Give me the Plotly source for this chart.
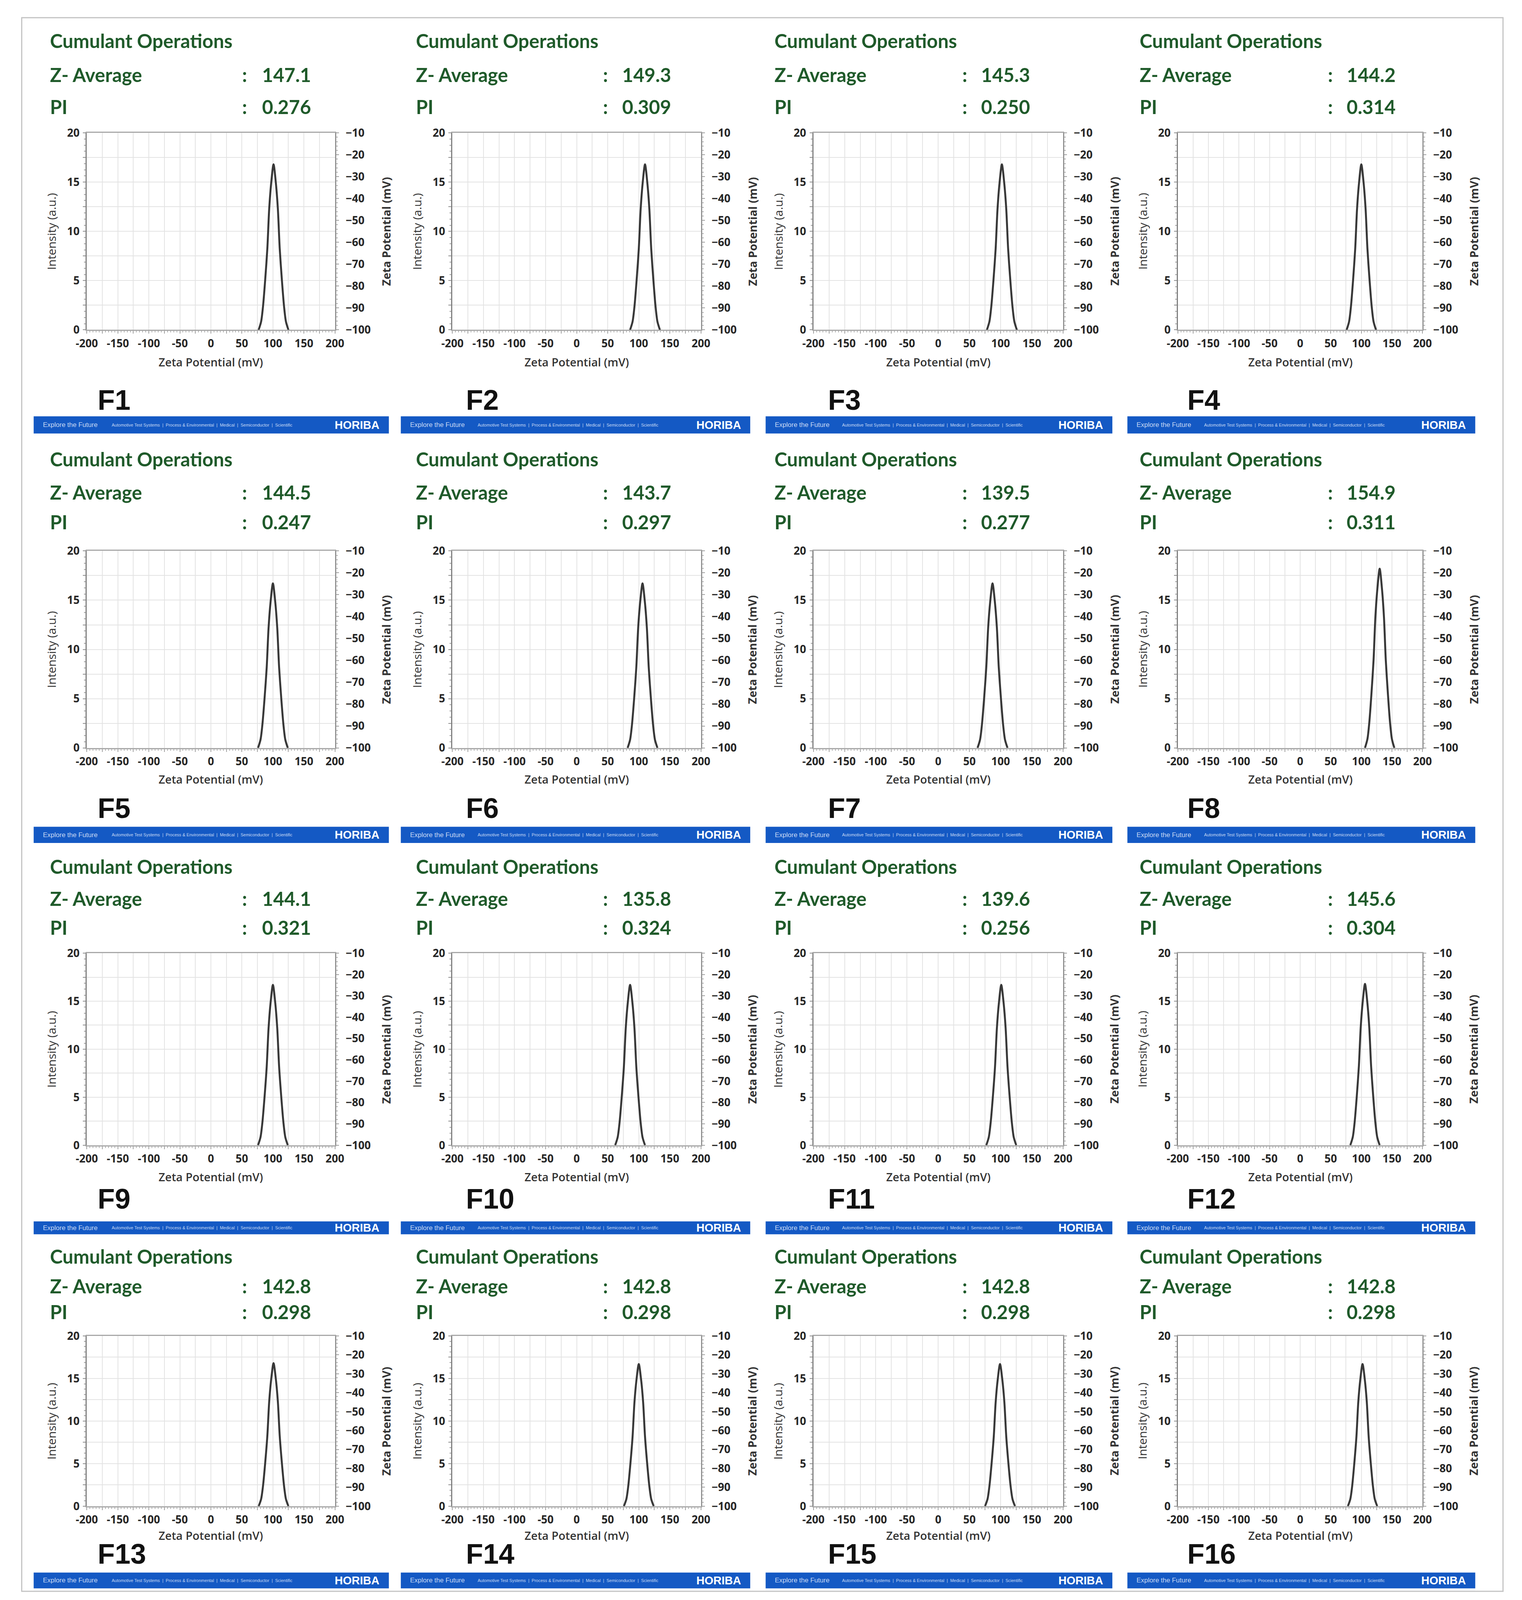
import plotly.graph_objects as go

# ── Data ──────────────────────────────────────────────────────────────────────
SAMPLES = ["F1", "F2", "F3", "F4", "F5", "F6", "F7", "F8",
           "F9", "F10", "F11", "F12", "F13", "F14", "F15", "F16"]
Z_AVERAGE = ["147.1", "149.3", "145.3", "144.2", "144.5", "143.7", "139.5", "154.9",
             "144.1", "135.8", "139.6", "145.6", "142.8", "142.8", "142.8", "142.8"]
PI_VALUES = ["0.276", "0.309", "0.250", "0.314", "0.247", "0.297", "0.277", "0.311",
             "0.321", "0.324", "0.256", "0.304", "0.298", "0.298", "0.298", "0.298"]
PEAK_CENTER = [101, 110, 102, 100, 100, 106, 87, 130,
               100, 86, 101, 106, 101, 100, 99, 102]
PEAK_HEIGHT = [16.8, 16.8, 16.8, 16.8, 16.7, 16.7, 16.7, 18.2,
               16.7, 16.7, 16.7, 16.8, 16.8, 16.7, 16.7, 16.7]
# peak outline as read from F1: offset from the peak (mV) and share of peak height
PEAK_OFFSET = [-24, -20, -17, -13.5, -10, -7, -3.7, 0, 3.7, 7, 10, 13.5, 17, 20, 24]
PEAK_SHAPE = [0, 0.05, 0.14, 0.30, 0.49, 0.73, 0.89, 1.0, 0.89, 0.73, 0.49, 0.30, 0.14, 0.05, 0]

X_TICKS = [-200, -175, -150, -125, -100, -75, -50, -25, 0, 25, 50, 75, 100, 125, 150, 175, 200]
X_LABELS = ["-200", "", "-150", "", "-100", "", "-50", "", "0", "", "50", "", "100", "", "150", "", "200"]
Y_TICKS = [0, 2.5, 5, 7.5, 10, 12.5, 15, 17.5, 20]
Y_LABELS = ["0", "", "5", "", "10", "", "15", "", "20"]

# ── Page geometry (pixels of the 3897 x 4804 sheet) ───────────────────────────
W, H = 3897, 4804
PLOT_LEFT = [196, 1145, 2082, 3028]
PLOT_RIGHT = [840, 1790, 2730, 3663]
PLOT_TOP = [379, 1646, 2865, 4025]
PLOT_BOTTOM = [976, 2243, 3447, 4541]
TEXT_X = [98, 1048, 1979, 2927]
COLON_X = [603, 1540, 2473, 3421]
VALUE_X = [649, 1584, 2515, 3464]
LABEL_X = [222, 1178, 2118, 3050]
TITLE_Y = [100, 1367, 2602, 3784]
ZAVG_Y = [203, 1468, 2699, 3874]
PI_Y = [300, 1558, 2787, 3952]
LABEL_Y = [1188, 2426, 3610, 4686]
XTITLE_GAP = [97, 95, 96, 88]
BANNER_X = [(58, 980), (1011, 1918), (1958, 2858), (2897, 3800)]
BANNER_Y = [(1238, 1290), (2482, 2531), (3678, 3717), (4742, 4790)]

GREEN = "#1f5a2a"
BLUE = "#1459c4"
GRID = "#e3e3e3"
TEXT = "Lato"
NUM = "Open Sans"


def px(x):
    return x / W


def py(y):
    return 1 - y / H


fig = go.Figure()
annotations = []
shapes = []
layout_axes = {}

for k in range(16):
    r, c = divmod(k, 4)
    n = k + 1
    xa = "x" if n == 1 else f"x{n}"
    ya = "y" if n == 1 else f"y{n}"
    yb = f"y{16 + n}"

    xs = [PEAK_CENTER[k] + o for o in PEAK_OFFSET]
    ys = [PEAK_HEIGHT[k] * s for s in PEAK_SHAPE]
    fig.add_trace(go.Scatter(x=xs, y=ys, mode="lines", xaxis=xa, yaxis=ya,
                             line=dict(color="#383838", width=5, shape="spline", smoothing=0.8),
                             showlegend=False, hoverinfo="skip"))
    fig.add_trace(go.Scatter(x=[None], y=[None], xaxis=xa, yaxis=yb,
                             showlegend=False, hoverinfo="skip"))

    tick_font = dict(family=NUM, size=28, color="#262626", weight="bold")
    layout_axes[f"xaxis{'' if n == 1 else n}"] = dict(
        domain=[px(PLOT_LEFT[c]), px(PLOT_RIGHT[c])], anchor=ya,
        range=[-200, 200], tickmode="array", tickvals=X_TICKS, ticktext=X_LABELS,
        showgrid=True, gridcolor=GRID, gridwidth=2, zeroline=False,
        showline=True, linecolor="#a8a8a8", linewidth=3, mirror=True,
        ticks="outside", ticklen=7, tickwidth=2, tickcolor="#a0a0a0",
        minor=dict(dtick=5, tick0=0, ticks="outside", ticklen=4, tickcolor="#b0b0b0",
                   showgrid=False),
        tickfont=tick_font, ticklabelstandoff=1, fixedrange=True,
    )
    layout_axes[f"yaxis{'' if n == 1 else n}"] = dict(
        domain=[py(PLOT_BOTTOM[r]), py(PLOT_TOP[r])], anchor=xa,
        range=[0, 20], tickmode="array", tickvals=Y_TICKS, ticktext=Y_LABELS,
        showgrid=True, gridcolor=GRID, gridwidth=2, zeroline=False,
        showline=True, linecolor="#808080", linewidth=3,
        ticks="outside", ticklen=7, tickwidth=2, tickcolor="#909090",
        minor=dict(dtick=0.625, tick0=0, ticks="outside", ticklen=4, tickcolor="#a0a0a0",
                   showgrid=False),
        tickfont=tick_font, ticklabelstandoff=3, fixedrange=True,
    )
    layout_axes[f"yaxis{16 + n}"] = dict(
        overlaying=ya, side="right", anchor=xa,
        range=[-100, -10], dtick=10, showgrid=False, zeroline=False,
        showline=True, linecolor="#909090", linewidth=3,
        ticks="outside", ticklen=7, tickwidth=2, tickcolor="#a0a0a0",
        minor=dict(dtick=2, ticks="outside", ticklen=4, tickcolor="#b0b0b0"),
        tickfont=tick_font, ticklabelstandoff=12, fixedrange=True,
    )

    mid_y = (PLOT_TOP[r] + PLOT_BOTTOM[r]) / 2
    # header block
    for text, yy, xx in [("Cumulant Operations", TITLE_Y[r], TEXT_X[c]),
                         ("Z- Average", ZAVG_Y[r], TEXT_X[c]),
                         ("PI", PI_Y[r], TEXT_X[c]),
                         (":", ZAVG_Y[r], COLON_X[c] - 6),
                         (":", PI_Y[r], COLON_X[c] - 6),
                         (Z_AVERAGE[k], ZAVG_Y[r], VALUE_X[c]),
                         (PI_VALUES[k], PI_Y[r], VALUE_X[c])]:
        annotations.append(dict(text=text, x=px(xx), y=py(yy), xref="paper", yref="paper",
                                xanchor="left", yanchor="middle", showarrow=False,
                                font=dict(family=TEXT, size=49, color=GREEN, weight="bold")))
    # axis titles
    annotations.append(dict(text="Intensity (a.u.)", x=px(PLOT_LEFT[c] - 92), y=py(mid_y),
                            xref="paper", yref="paper", xanchor="center", yanchor="middle",
                            textangle=-90, showarrow=False,
                            font=dict(family=NUM, size=30, color="#333333")))
    annotations.append(dict(text="Zeta Potential (mV)", x=px(PLOT_RIGHT[c] + 133), y=py(mid_y),
                            xref="paper", yref="paper", xanchor="center", yanchor="middle",
                            textangle=-90, showarrow=False,
                            font=dict(family=NUM, size=29, color="#333333", weight="bold")))
    annotations.append(dict(text="Zeta Potential (mV)",
                            x=px((PLOT_LEFT[c] + PLOT_RIGHT[c]) / 2),
                            y=py(PLOT_BOTTOM[r] + XTITLE_GAP[r]),
                            xref="paper", yref="paper", xanchor="center", yanchor="middle",
                            showarrow=False,
                            font=dict(family=NUM, size=29, color="#333333", weight=600)))
    # sample label
    annotations.append(dict(text=SAMPLES[k], x=px(LABEL_X[c]), y=py(LABEL_Y[r]),
                            xref="paper", yref="paper", xanchor="left", yanchor="middle",
                            showarrow=False,
                            font=dict(family="Liberation Sans", size=72, color="#111111",
                                      weight="bold")))
    # HORIBA footer banner
    bx0, bx1 = BANNER_X[c]
    by0, by1 = BANNER_Y[r]
    bw = bx1 - bx0
    shapes.append(dict(type="rect", xref="paper", yref="paper",
                       x0=px(bx0), x1=px(bx1), y0=py(by1), y1=py(by0),
                       fillcolor=BLUE, line=dict(width=0), layer="below"))
    bmid = py((by0 + by1) / 2)
    annotations.append(dict(text="Explore the Future", x=px(bx0 + 0.024 * bw), y=bmid,
                            xref="paper", yref="paper", xanchor="left", yanchor="middle",
                            showarrow=False,
                            font=dict(family="Liberation Sans Narrow, Liberation Sans",
                                      size=17, color="#c9d9f4")))
    annotations.append(dict(
        text="Automotive Test Systems  |  Process & Environmental  |  Medical  |  Semiconductor  |  Scientific",
        x=px(bx0 + 0.218 * bw), y=bmid, xref="paper", yref="paper",
        xanchor="left", yanchor="middle", showarrow=False,
        font=dict(family="Liberation Sans Narrow, Liberation Sans", size=11, color="#c9d9f4")))
    annotations.append(dict(text="HORIBA", x=px(bx1 - 0.025 * bw), y=bmid,
                            xref="paper", yref="paper", xanchor="right", yanchor="middle",
                            showarrow=False,
                            font=dict(family="Liberation Sans", size=29, color="#ffffff",
                                      weight="bold")))

# light frame around the whole sheet
shapes.append(dict(type="rect", xref="paper", yref="paper",
                   x0=px(27), x1=px(3872), y0=py(4799), y1=py(30),
                   line=dict(color="#c4c4c4", width=3), fillcolor="rgba(0,0,0,0)"))

fig.update_layout(
    autosize=True,
    margin=dict(l=0, r=0, t=0, b=0),
    paper_bgcolor="white", plot_bgcolor="white",
    showlegend=False,
    annotations=annotations, shapes=shapes,
    **layout_axes,
)

# let the figure fill the browser window exactly, without the default body margin
fig.write_html(
    "out.html",
    config={"responsive": True, "displayModeBar": False},
    default_width="100vw", default_height="100vh",
    post_script=("document.body.style.margin='0';"
                 "document.body.style.overflow='hidden';"
                 "Plotly.Plots.resize(document.getElementById('{plot_id}'));"),
)
